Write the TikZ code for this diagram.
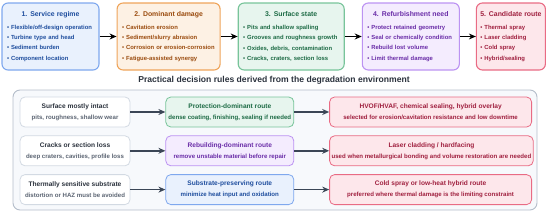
\documentclass[tikz,border=0pt]{standalone}
\usepackage{fontspec}
\setmainfont{Liberation Sans}
\usetikzlibrary{positioning,arrows.meta}

\definecolor{azulB}{HTML}{7FA8EE}
\definecolor{azulF}{HTML}{E9F1FD}
\definecolor{azulT}{HTML}{1F4E9E}
\definecolor{naranjaB}{HTML}{EFA45A}
\definecolor{naranjaF}{HTML}{FDF1E4}
\definecolor{naranjaT}{HTML}{9A4B0E}
\definecolor{verdeB}{HTML}{78C49A}
\definecolor{verdeF}{HTML}{E7F5EE}
\definecolor{verdeT}{HTML}{1D6B45}
\definecolor{moradoB}{HTML}{BC93F2}
\definecolor{moradoF}{HTML}{F4ECFE}
\definecolor{moradoT}{HTML}{6A2DA8}
\definecolor{rojoB}{HTML}{E96B84}
\definecolor{rojoF}{HTML}{FDE7EB}
\definecolor{rojoT}{HTML}{A0203F}
\definecolor{grisB}{HTML}{D3DAE3}
\definecolor{grisT}{HTML}{2B323D}
\definecolor{grisL}{HTML}{5C6573}
\definecolor{panelB}{HTML}{B4BDCA}
\definecolor{panelF}{HTML}{F7F9FC}
\definecolor{flechaC}{HTML}{3B4656}

\newcommand{\tituloEtapa}[1]{{\fontsize{6.9pt}{8pt}\selectfont\hbox to\hsize{\hss #1\hss}}\vspace{2.2pt}}

\begin{document}
\begin{tikzpicture}[x=1pt, y=1pt, node distance=17pt, thick, >=Stealth]
        % Definición de estilos
        \tikzstyle{etapa} = [draw, rectangle, rounded corners=6pt, line width=1.1pt, minimum height=67pt, inner xsep=5pt, align=left, font=\fontsize{5.9pt}{10.4pt}\selectfont\bfseries]
        \tikzstyle{regla} = [draw, rectangle, rounded corners=5pt, line width=0.8pt, minimum height=30pt, inner xsep=2pt, align=center, font=\fontsize{6.1pt}{11pt}\selectfont\bfseries]
        \tikzstyle{condicion} = [regla, draw=grisB, fill=white, text=grisL, minimum width=110pt]
        \tikzstyle{ruta} = [regla, minimum width=128pt]
        \tikzstyle{proceso} = [regla, draw=rojoB, fill=rojoF, text=rojoT, minimum width=202pt]
        \tikzstyle{flecha} = [->, line width=1.4pt, draw=flechaC, -{Stealth[length=7pt, width=6pt]}]

        \useasboundingbox (0,0) rectangle (550,-214);

        % Etapas superiores
        \node[etapa, draw=azulB, fill=azulF, text=azulT, text width=87pt] (servicio) at (50.5,-36.5)
            {\tituloEtapa{1. Service regime}
             \textbullet~Flexible/off-design operation\\ \textbullet~Turbine type and head\\ \textbullet~Sediment burden\\ \textbullet~Component location};
        \node[etapa, draw=naranjaB, fill=naranjaF, text=naranjaT, text width=93pt, right=of servicio] (danio)
            {\tituloEtapa{2. Dominant damage}
             \textbullet~Cavitation erosion\\ \textbullet~Sediment/slurry abrasion\\ \textbullet~Corrosion or erosion-corrosion\\ \textbullet~Fatigue-assisted synergy};
        \node[etapa, draw=verdeB, fill=verdeF, text=verdeT, text width=96pt, right=of danio] (superficie)
            {\tituloEtapa{3. Surface state}
             \textbullet~Pits and shallow spalling\\ \textbullet~Grooves and roughness growth\\ \textbullet~Oxides, debris, contamination\\ \textbullet~Cracks, craters, section loss};
        \node[etapa, draw=moradoB, fill=moradoF, text=moradoT, text width=87pt, right=of superficie] (necesidad)
            {\tituloEtapa{4. Refurbishment need}
             \textbullet~Protect retained geometry\\ \textbullet~Seal or chemically condition\\ \textbullet~Rebuild lost volume\\ \textbullet~Limit thermal damage};
        \node[etapa, draw=rojoB, fill=rojoF, text=rojoT, text width=61pt, inner xsep=4pt, right=16pt of necesidad] (candidata)
            {\tituloEtapa{5. Candidate route}
             \textbullet~Thermal spray\\ \textbullet~Laser cladding\\ \textbullet~Cold spray\\ \textbullet~Hybrid/sealing};

        \draw[->, line width=1.1pt, -{Stealth[length=7pt, width=6pt]}] (servicio) -- (danio);
        \draw[->, line width=1.1pt, -{Stealth[length=7pt, width=6pt]}] (danio) -- (superficie);
        \draw[->, line width=1.1pt, -{Stealth[length=7pt, width=6pt]}] (superficie) -- (necesidad);
        \draw[->, line width=1.1pt, -{Stealth[length=7pt, width=6pt]}] (necesidad) -- (candidata);

        % Reglas de decisión
        \node[text=grisT, font=\fontsize{8.6pt}{10pt}\selectfont\bfseries] (tituloReglas) at (274,-80.3) {Practical decision rules derived from the degradation environment};
        \draw[line width=0.9pt, draw=panelB, fill=panelF, rounded corners=7pt] (13,-90) rectangle (537,-210);

        \node[condicion] (intacta) at (75,-112) {\textcolor{grisT}{\fontsize{6.6pt}{11pt}\selectfont Surface mostly intact}\\ pits, roughness, shallow wear};
        \node[condicion, below=8pt of intacta] (grietas) {\textcolor{grisT}{\fontsize{6.6pt}{11pt}\selectfont Cracks or section loss}\\ deep craters, cavities, profile loss};
        \node[condicion, below=8pt of grietas] (sensible) {\textcolor{grisT}{\fontsize{6.6pt}{11pt}\selectfont Thermally sensitive substrate}\\ distortion or HAZ must be avoided};

        \node[ruta, draw=verdeB, fill=verdeF, text=verdeT, right=35pt of intacta] (proteccion) {{\fontsize{6.6pt}{11pt}\selectfont Protection-dominant route}\\ dense coating, finishing, sealing if needed};
        \node[ruta, draw=moradoB, fill=moradoF, text=moradoT, right=35pt of grietas] (reconstruccion) {{\fontsize{6.6pt}{11pt}\selectfont Rebuilding-dominant route}\\ remove unstable material before repair};
        \node[ruta, draw=azulB, fill=azulF, text=azulT, right=35pt of sensible] (preservacion) {{\fontsize{6.6pt}{11pt}\selectfont Substrate-preserving route}\\ minimize heat input and oxidation};

        \node[proceso, right=35pt of proteccion] (hvof) {{\fontsize{6.6pt}{11pt}\selectfont HVOF/HVAF, chemical sealing, hybrid overlay}\\ selected for erosion/cavitation resistance and low downtime};
        \node[proceso, right=35pt of reconstruccion] (laser) {{\fontsize{6.6pt}{11pt}\selectfont Laser cladding / hardfacing}\\ used when metallurgical bonding and volume restoration are needed};
        \node[proceso, right=35pt of preservacion] (frio) {{\fontsize{6.6pt}{11pt}\selectfont Cold spray or low-heat hybrid route}\\ preferred where thermal damage is the limiting constraint};

        % Aristas
        \draw[flecha] (intacta) -- (proteccion);
        \draw[flecha] (grietas) -- (reconstruccion);
        \draw[flecha] (sensible) -- (preservacion);
        \draw[flecha] (proteccion) -- (hvof);
        \draw[flecha] (reconstruccion) -- (laser);
        \draw[flecha] (preservacion) -- (frio);
    \end{tikzpicture}
\end{document}
